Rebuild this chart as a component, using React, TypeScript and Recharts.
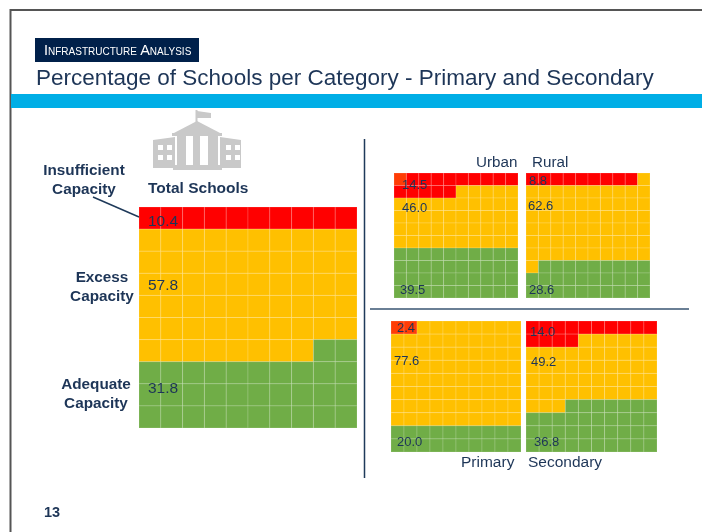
import React from "react";
import { ScatterChart, Scatter, XAxis, YAxis } from "recharts";

// ---- Data ----
const panelNames = ["Total Schools", "Urban", "Rural", "Primary", "Secondary"];
const insufficientLabels = ["10.4", "14.5", "8.8", "2.4", "14.0"];
const excessLabels = ["57.8", "46.0", "62.6", "77.6", "49.2"];
const adequateLabels = ["31.8", "39.5", "28.6", "20.0", "36.8"];
// whole cells out of 100, filled row by row from the top-left
const insufficientCells = [10, 15, 9, 2, 14];
const excessCells = [58, 45, 62, 78, 49];
const adequateCells = [32, 40, 29, 20, 37];
// leading red cells that look orange-red in the picture
const tintedCells = [0, 1, 0, 2, 0];

// ---- Layout and style ----
const NAVY = "#1d3557";
const FONT = '"Liberation Sans", Arial, sans-serif';
const COLORS = { red: "#ff0000", tint: "#ff3d06", amber: "#ffc000", green: "#70ad47" };
const boxes = [
  { left: 139, top: 207, w: 218, h: 221 },
  { left: 394, top: 173, w: 124, h: 125 },
  { left: 526, top: 173, w: 124, h: 125 },
  { left: 391, top: 321, w: 130, h: 131 },
  { left: 526, top: 321, w: 131, h: 131 },
];
const labelAt = [
  { size: 15.5, pos: [[148, 221], [148, 285], [148, 388]] },
  { size: 13, pos: [[402, 184], [402, 207], [400, 289]] },
  { size: 13, pos: [[529, 180], [528, 205], [529, 289]] },
  { size: 13, pos: [[397, 327], [394, 360], [397, 441]] },
  { size: 13, pos: [[530, 331], [531, 361], [534, 441]] },
];

type Cell = { col: number; row: number; fill: string };

function buildCells(i: number): Cell[] {
  const groups: [number, string][] = [
    [tintedCells[i], COLORS.tint],
    [insufficientCells[i] - tintedCells[i], COLORS.red],
    [excessCells[i], COLORS.amber],
    [adequateCells[i], COLORS.green],
  ];
  const cells: Cell[] = [];
  let n = 0;
  for (const [count, fill] of groups) {
    for (let k = 0; k < count; k++, n++) {
      cells.push({ col: (n % 10) + 0.5, row: Math.floor(n / 10) + 0.5, fill });
    }
  }
  return cells;
}

function Waffle({ index }: { index: number }) {
  const b = boxes[index];
  const cw = b.w / 10;
  const ch = b.h / 10;
  const CellShape = (p: any) => (
    <rect
      x={p.cx - cw / 2}
      y={p.cy - ch / 2}
      width={cw}
      height={ch}
      fill={p.payload.fill}
      stroke="rgba(255,255,255,0.16)"
      strokeWidth={1}
    />
  );
  return (
    <div style={{ position: "absolute", left: b.left, top: b.top }}>
      <ScatterChart width={b.w} height={b.h} margin={{ top: 0, right: 0, bottom: 0, left: 0 }}>
        <XAxis type="number" dataKey="col" domain={[0, 10]} hide />
        <YAxis type="number" dataKey="row" domain={[0, 10]} reversed hide />
        <Scatter data={buildCells(index)} shape={CellShape} isAnimationActive={false} />
      </ScatterChart>
    </div>
  );
}

function Txt({ x, y, size, bold, anchor, color, children }: any) {
  const tx = anchor === "middle" ? "-50%" : "0";
  return (
    <div
      style={{
        position: "absolute",
        left: x,
        top: y,
        transform: `translate(${tx}, -50%)`,
        fontFamily: FONT,
        fontSize: size,
        fontWeight: bold ? 700 : 400,
        color: color || NAVY,
        whiteSpace: "nowrap",
        lineHeight: 1,
      }}
    >
      {children}
    </div>
  );
}

function SlideArt() {
  const g = "#c9c9c9";
  return (
    <svg width={702} height={532} style={{ position: "absolute", left: 0, top: 0 }}>
      {/* frame */}
      <line x1={10} y1={10} x2={702} y2={10} stroke="#555" strokeWidth={2} />
      <line x1={10.5} y1={9} x2={10.5} y2={532} stroke="#555" strokeWidth={2} />
      {/* band */}
      <rect x={11} y={94} width={691} height={14} fill="#00aee6" />
      {/* school icon */}
      <rect x={195.5} y={110} width={2} height={14} fill={g} />
      <polygon points="197,111 211,113 211,118 197,118" fill={g} />
      <polygon points="197,121 222,134 172,134" fill={g} />
      <rect x={172} y={133} width={50} height={3} fill={g} />
      <rect x={177} y={136} width={9} height={29} fill={g} />
      <rect x={193} y={136} width={7} height={29} fill={g} />
      <rect x={208} y={136} width={10} height={29} fill={g} />
      <rect x={173} y={165} width={49} height={5} fill={g} />
      <polygon points="153,140 175,137 175,168 153,168" fill={g} />
      <polygon points="220,137 241,140 241,168 220,168" fill={g} />
      {[158, 167, 226, 235].map((x) =>
        [145, 155].map((y) => (
          <rect key={`${x}-${y}`} x={x} y={y} width={5} height={5} fill="#fff" />
        ))
      )}
      {/* dividers */}
      <line x1={364.5} y1={139} x2={364.5} y2={478} stroke="#1f3a5a" strokeWidth={1.5} />
      <line x1={370} y1={309} x2={689} y2={309} stroke="#6a7f95" strokeWidth={2} />
      {/* leader */}
      <line x1={93} y1={197} x2={139} y2={217} stroke="#1f3a5a" strokeWidth={1.5} />
    </svg>
  );
}

export default function App() {
  return (
    <div
      style={{
        position: "absolute",
        left: 0,
        top: 0,
        width: 702,
        height: 532,
        background: "#fff",
        overflow: "hidden",
        filter: "blur(0.35px)",
      }}
    >
      <SlideArt />
      <div
        style={{
          position: "absolute",
          left: 35,
          top: 38,
          width: 164,
          height: 24,
          background: "#00204a",
        }}
      />
      <Txt x={44} y={50} size={14.5} color="#fff">
        <span style={{ fontVariant: "small-caps" }}>Infrastructure Analysis</span>
      </Txt>
      <Txt x={36} y={78} size={22.5}>
        Percentage of Schools per Category - Primary and Secondary
      </Txt>

      {boxes.map((_, i) => (
        <Waffle key={panelNames[i]} index={i} />
      ))}
      {boxes.map((_, i) =>
        [insufficientLabels[i], excessLabels[i], adequateLabels[i]].map((t, j) => (
          <Txt key={`${i}-${j}`} x={labelAt[i].pos[j][0]} y={labelAt[i].pos[j][1]} size={labelAt[i].size}>
            {t}
          </Txt>
        ))
      )}

      <Txt x={84} y={170} size={15.3} bold anchor="middle">Insufficient</Txt>
      <Txt x={84} y={189} size={15.3} bold anchor="middle">Capacity</Txt>
      <Txt x={102} y={277} size={15.3} bold anchor="middle">Excess</Txt>
      <Txt x={102} y={296} size={15.3} bold anchor="middle">Capacity</Txt>
      <Txt x={96} y={384} size={15.3} bold anchor="middle">Adequate</Txt>
      <Txt x={96} y={403} size={15.3} bold anchor="middle">Capacity</Txt>

      <Txt x={148} y={188} size={15.5} bold>{panelNames[0]}</Txt>
      <Txt x={476} y={162} size={15.2}>{panelNames[1]}</Txt>
      <Txt x={532} y={162} size={15.2}>{panelNames[2]}</Txt>
      <Txt x={461} y={462} size={15.5}>{panelNames[3]}</Txt>
      <Txt x={528} y={462} size={15.5}>{panelNames[4]}</Txt>
      <Txt x={44} y={512} size={14.5} bold>13</Txt>
    </div>
  );
}
